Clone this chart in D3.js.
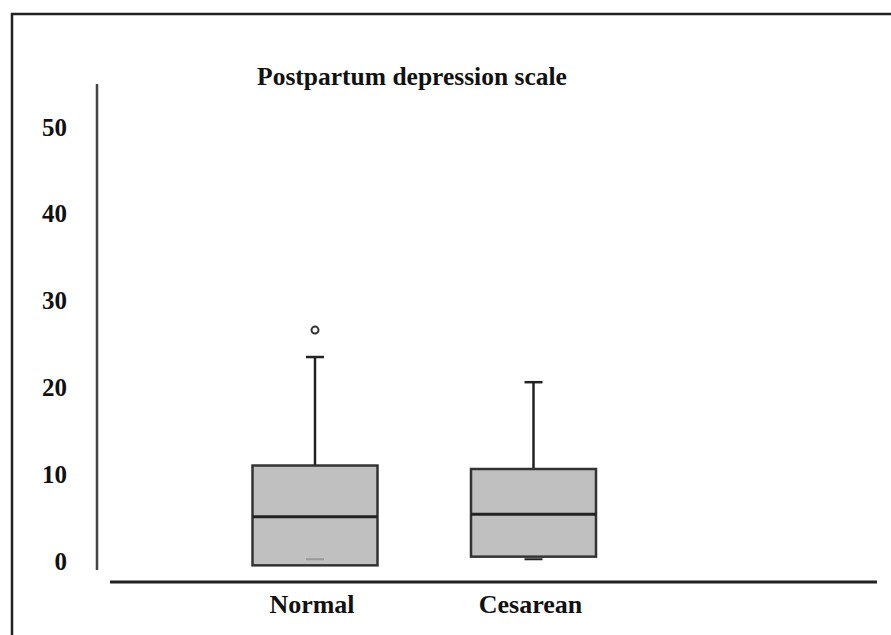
<!DOCTYPE html>
<html>
<head>
<meta charset="utf-8">
<script src="https://cdn.jsdelivr.net/npm/d3@7"></script>
<style>
  body { margin: 0; background: #fff; }
  text { font-family: "Liberation Serif", "Times New Roman", serif; font-weight: bold; fill: #111; }
</style>
</head>
<body>
<svg id="canvas" width="891" height="635"></svg>
<script>
let categories = ['Normal', 'Cesarean'];
let whiskerLow = [0.2, 0.2];
let q1 = [-0.5, 0.5];
let median = [5.1, 5.4];
let q3 = [11.0, 10.6];
let whiskerHigh = [23.5, 20.6];
let outliers = [[26.6], []];
let yTicks = [0, 10, 20, 30, 40, 50];

let canvas = d3.select('#canvas');

let y = d3.scaleLinear().domain([0, 50]).range([561, 127]);
let x = d3.scalePoint().domain(categories).range([315, 533.5]);
let boxW = 125;
let capW = 18;

// frame (top + left only)
canvas.append('path')
    .attr('d', 'M12,635 L12,14 L891,14')
    .attr('fill', 'none')
    .attr('stroke', '#222')
    .attr('stroke-width', 2.5);

canvas.append('text')
    .attr('x', 412)
    .attr('y', 85)
    .attr('text-anchor', 'middle')
    .style('font-size', '25.5px')
    .text('Postpartum depression scale');

// y axis: labels via d3 axis, line drawn by hand
let yAxis = canvas.append('g')
    .attr('transform', 'translate(97,0)')
    .call(d3.axisLeft(y).tickValues(yTicks).tickSize(0).tickPadding(30));
yAxis.select('.domain').remove();
yAxis.selectAll('text')
    .style('font-size', '25px')
    .style('font-family', '"Liberation Serif", serif')
    .attr('fill', '#111');

canvas.append('line')
    .attr('x1', 97).attr('x2', 97)
    .attr('y1', 84).attr('y2', 570)
    .attr('stroke', '#444').attr('stroke-width', 2.5);

canvas.append('line')
    .attr('x1', 110).attr('x2', 877)
    .attr('y1', 582).attr('y2', 582)
    .attr('stroke', '#222').attr('stroke-width', 3);

let groups = canvas.selectAll('g.box')
    .data(categories)
    .enter()
    .append('g')
    .attr('class', 'box');

// whiskers
groups.append('line')
    .attr('x1', d => x(d)).attr('x2', d => x(d))
    .attr('y1', (d, i) => y(whiskerHigh[i]))
    .attr('y2', (d, i) => y(q3[i]))
    .attr('stroke', '#222').attr('stroke-width', 2.5);

groups.append('line')
    .attr('x1', d => x(d) - capW / 2).attr('x2', d => x(d) + capW / 2)
    .attr('y1', (d, i) => y(whiskerHigh[i]))
    .attr('y2', (d, i) => y(whiskerHigh[i]))
    .attr('stroke', '#222').attr('stroke-width', 2.5);

groups.append('rect')
    .attr('x', d => x(d) - boxW / 2)
    .attr('width', boxW)
    .attr('y', (d, i) => y(q3[i]))
    .attr('height', (d, i) => y(q1[i]) - y(q3[i]))
    .attr('fill', '#c0c0c0')
    .attr('stroke', '#333')
    .attr('stroke-width', 2.5);

groups.append('line')
    .attr('x1', d => x(d) - boxW / 2).attr('x2', d => x(d) + boxW / 2)
    .attr('y1', (d, i) => y(median[i]))
    .attr('y2', (d, i) => y(median[i]))
    .attr('stroke', '#222').attr('stroke-width', 3);

// lower whisker cap
groups.append('line')
    .attr('x1', d => x(d) - capW / 2).attr('x2', d => x(d) + capW / 2)
    .attr('y1', (d, i) => y(whiskerLow[i]))
    .attr('y2', (d, i) => y(whiskerLow[i]))
    .attr('stroke', (d, i) => whiskerLow[i] > q1[i] ? '#999' : '#222')
    .attr('stroke-width', 2);

groups.selectAll('circle')
    .data((d, i) => outliers[i].map(v => ({ cat: d, v: v })))
    .enter()
    .append('circle')
    .attr('cx', o => x(o.cat))
    .attr('cy', o => y(o.v))
    .attr('r', 3.5)
    .attr('fill', '#fff')
    .attr('stroke', '#333')
    .attr('stroke-width', 2);

canvas.selectAll('text.cat')
    .data(categories)
    .enter()
    .append('text')
    .attr('class', 'cat')
    .attr('x', d => x(d) - 3)
    .attr('y', 613)
    .attr('text-anchor', 'middle')
    .style('font-size', '26px')
    .text(d => d);
</script>
</body>
</html>
